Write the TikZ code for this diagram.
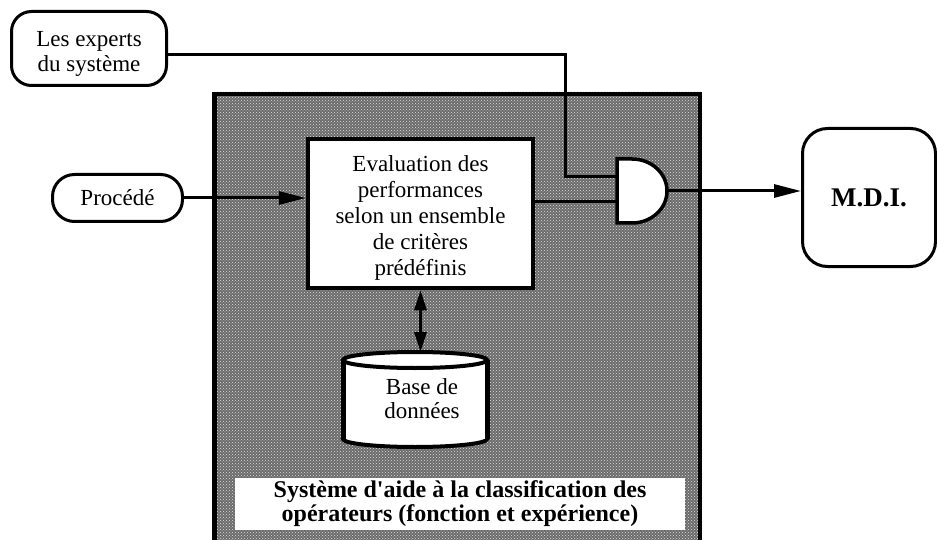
\documentclass[tikz,border=0pt]{standalone}
\usepackage{fontspec}
\setmainfont{Liberation Serif}
\usetikzlibrary{arrows.meta,patterns}
\begin{document}
\begin{tikzpicture}[x=1pt,y=-1pt,
 txt/.style={font=\fontsize{23}{26}\selectfont, align=center},
 rbox/.style={draw, line width=3pt, fill=white, txt, inner sep=0pt},
 conn/.style={line width=3pt},
 arr/.style={conn, -{Triangle[length=27pt,width=13pt]}},
 darr/.style={conn, {Triangle[length=20pt,width=12pt]}-{Triangle[length=20pt,width=12pt]}},
]
\useasboundingbox (0,0) rectangle (937,540);
\fill[white] (0,0) rectangle (937,540);
% system box (open at the bottom)
\fill[black!58] (212,92) rectangle (702,540);
\fill[pattern=crosshatch dots, pattern color=black!12] (212,92) rectangle (702,540);
\draw[line width=4.5pt] (214.25,540) -- (214.25,94.25) -- (699.75,94.25) -- (699.75,540);
% label of the system
\node[fill=white, minimum width=450pt, minimum height=52pt, inner sep=0pt,
      font=\fontsize{24}{24}\selectfont\bfseries, align=center] (lbl) at (460,504)
  {Système d\textquotesingle aide à la classification des\\opérateurs (fonction et expérience)};
% evaluation box
\node[draw, line width=4.5pt, fill=white, txt, minimum width=225pt, minimum height=149pt, inner sep=0pt]
  (eval) at (420.5,213.5) {\rule{0pt}{24pt}Evaluation des\\performances\\selon un ensemble\\de critères\\prédéfinis};
% external nodes
\node[rbox, rounded corners=20pt, minimum width=155pt, minimum height=74pt, font=\fontsize{23}{25}\selectfont]
  (experts) at (89,48.5) {\rule{0pt}{26pt}Les experts\\du système};
\node[rbox, rounded corners=22pt, minimum width=130pt, minimum height=47pt] (proc) at (117.5,198) {Procédé};
\node[rbox, rounded corners=25pt, minimum width=133pt, minimum height=138pt,
      font=\fontsize{27}{30}\selectfont\bfseries] (mdi) at (869,197.5) {M.D.I.};
% gate coordinates
\coordinate (gin1) at (617,177);
\coordinate (gin2) at (617,202);
\coordinate (gout) at (667,191);
\coordinate (c1) at (565,55);
% connectors
\draw[conn] (experts.east |- c1) -- (c1) |- (gin1);
\draw[conn] (eval.east |- gin2) -- (gin2);
\draw[arr] (proc.east) -- (eval.west |- proc.east);
\draw[arr] (gout) -- (mdi.west |- gout);
% AND gate
\draw[line width=3.5pt, fill=white] (617,159) -- (632,159)
  .. controls (651.3,159) and (667,173.3) .. (667,191)
  .. controls (667,208.7) and (651.3,223) .. (632,223) -- (617,223) -- cycle;
% database cylinder
\fill[white] (343,360) rectangle (487,439);
\draw[line width=4pt, fill=white] (415,439) ellipse [x radius=72pt, y radius=8pt];
\fill[white] (343,360) rectangle (487,439);
\draw[line width=5pt] (343,360) -- (343,439) (487,360) -- (487,439);
\draw[line width=4pt, fill=white] (415,360) ellipse [x radius=72pt, y radius=8pt];
\coordinate (dbtop) at (415,352);
\node[txt, font=\fontsize{23}{24}\selectfont, inner sep=0pt] (db) at (422,399) {Base de\\données};
\draw[darr] (eval.south) -- (eval.south |- dbtop);
\end{tikzpicture}
\end{document}
